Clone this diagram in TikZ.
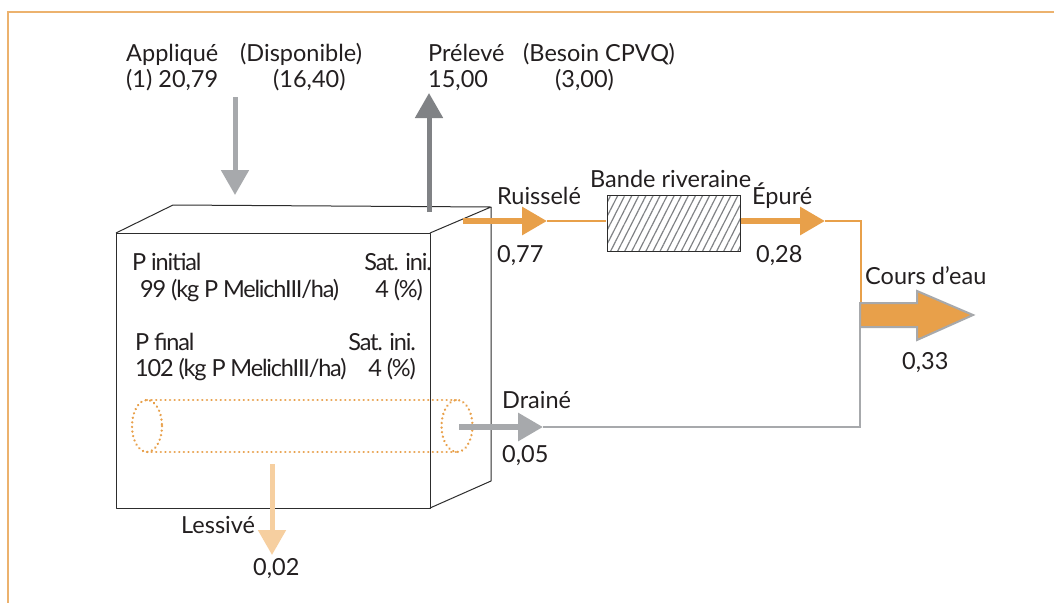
\documentclass[tikz,border=0pt]{standalone}
\usepackage{fontspec}
\setmainfont{Lato}
\newfontfamily\tightfont{Lato}[LetterSpace=-5.0]
\usetikzlibrary{arrows.meta,patterns.meta}
\definecolor{orangeC}{RGB}{232,160,74}
\definecolor{peachC}{RGB}{246,207,160}
\definecolor{grayA}{RGB}{167,169,172}
\definecolor{grayD}{RGB}{128,130,133}
\definecolor{frameC}{RGB}{236,178,110}
\definecolor{textC}{RGB}{35,31,32}
\definecolor{edgeC}{RGB}{45,45,45}
\tikzset{
  lbl/.style={anchor=base west, inner sep=0pt, text=textC, font=\fontsize{23.5}{28}\selectfont},
  boxlbl/.style={lbl, font=\tightfont\fontsize{23.5}{28}\selectfont},
  vblock/.style={line width=5pt, -{Triangle[length=25pt,width=27pt]}},
  hblock/.style={line width=6pt, -{Triangle[length=25pt,width=27pt]}},
  boxedge/.style={draw=edgeC, line width=1pt, line join=round},
  thinor/.style={draw=orangeC, line width=2pt},
  thingr/.style={draw=grayA, line width=2pt},
  pipe/.style={draw=orangeC, line width=2.6pt, dash pattern=on 0.01pt off 4.6pt, line cap=round}
}
\begin{document}
\begin{tikzpicture}[x=1pt,y=-1pt]
\fill[white] (0,0) rectangle (1054,603);
\useasboundingbox (0,0) rectangle (1054,603);
% frame
\draw[frameC, line width=1.5pt] (1054,12) -- (8,12) -- (8,603);

% soil box
\coordinate (fTL) at (116,233);
\coordinate (fTR) at (430,233);
\coordinate (fBL) at (116,508);
\coordinate (fBR) at (430,508);
\coordinate (bTL) at (173,205);
\coordinate (bTR) at (491,207);
\coordinate (bBR) at (491,481);
\draw[boxedge] (fTL) rectangle (fBR);
\draw[boxedge] (fTL) -- (bTL) -- (bTR) -- (fTR);
\draw[boxedge] (bTR) -- (bBR) -- (fBR);

% drain pipe
\coordinate (pL) at (147,426);
\coordinate (pR) at (457,426);
\draw[pipe] (147,400) -- (457,400);
\draw[pipe] (147,452) -- (457,452);
\draw[pipe] (pL) ellipse [x radius=15, y radius=26];
\draw[pipe] (pR) ellipse [x radius=15.5, y radius=26];

% top labels
\node[lbl] (applique) at (126,61) {Appliqué};
\node[lbl] (dispo) at (240,61) {(Disponible)};
\node[lbl] (appv) at (126,87) {(1) 20,79};
\node[lbl] (dispov) at (273,87) {(16,40)};
\node[lbl] (preleve) at (428,61) {Prélevé};
\node[lbl] (besoin) at (523,61) {(Besoin CPVQ)};
\node[lbl] (prelv) at (428,87) {15,00};
\node[lbl] (besoinv) at (555,87) {(3,00)};

% box labels
\node[boxlbl] (pini) at (132,270) {P initial};
\node[boxlbl] (pinv) at (140,297) {99 (kg P MelichIII/ha)};
\node[boxlbl, anchor=base east] (satA) at (432,270) {Sat. ini.};
\node[boxlbl, anchor=base east] (satAv) at (423,297) {4 (\%)};
\node[boxlbl] (pfin) at (135,350) {P final};
\node[boxlbl] (pfinv) at (135,376) {102 (kg P MelichIII/ha)};
\node[boxlbl, anchor=base east] (satB) at (416,350) {Sat. ini.};
\node[boxlbl, anchor=base east] (satBv) at (416,376) {4 (\%)};

% applied & uptake arrows
\coordinate (aS) at (235,97);
\coordinate (aE) at (235,195);
\draw[vblock, grayA] (aS) -- (aE);
\coordinate (uS) at (429,212);
\coordinate (uE) at (429,93);
\draw[vblock, grayD] (uS) -- (uE);

% leaching
\coordinate (lS) at (272,464);
\coordinate (lE) at (272,555);
\draw[vblock, peachC] (lS) -- (lE);
\node[lbl] (lessive) at (181,533) {Lessivé};
\node[lbl] (lessv) at (253,575) {0,02};

% runoff
\node[draw=edgeC, line width=1pt, inner sep=0pt, minimum width=133pt, minimum height=56pt,
      pattern={Lines[angle=63,distance=6.3pt,line width=1.2pt]}, pattern color=grayD]
      (bande) at (673.5,223) {};
\coordinate (rS) at (463,221);
\coordinate (rE) at (547,221);
\draw[thinor] (rE) -- (rE -| bande.west);
\draw[hblock, orangeC] (rS) -- (rE);
\coordinate (eE) at (825,221);
\coordinate (jO) at (861,221);
\draw[thinor] (eE) -- (jO) -- (861,303);
\draw[hblock, orangeC] (eE -| bande.east) -- (eE);
\node[lbl] (ruis) at (497,204) {Ruisselé};
\node[lbl] (ruisv) at (497,262) {0,77};
\node[lbl] (bandelbl) at (590,187) {Bande riveraine};
\node[lbl] (epure) at (752,204) {Épuré};
\node[lbl] (epurev) at (756,262) {0,28};

% drainage
\coordinate (dS) at (459,427);
\coordinate (dE) at (543,427);
\coordinate (jG) at (860,427);
\draw[thingr] (dE) -- (jG) -- (860,327);
\draw[hblock, grayA] (dS) -- (dE);
\node[lbl] (draine) at (502,408) {Drainé};
\node[lbl] (drainev) at (502,462) {0,05};

% stream
\draw[fill=orangeC, draw=grayA, line width=2pt, line join=miter]
  (860,303) -- (917,303) -- (917,291) -- (973,315) -- (917,340) -- (917,327) -- (860,327) -- cycle;
\node[lbl] (cours) at (865,284) {Cours d’eau};
\node[lbl] (coursv) at (902,369) {0,33};
\end{tikzpicture}
\end{document}
